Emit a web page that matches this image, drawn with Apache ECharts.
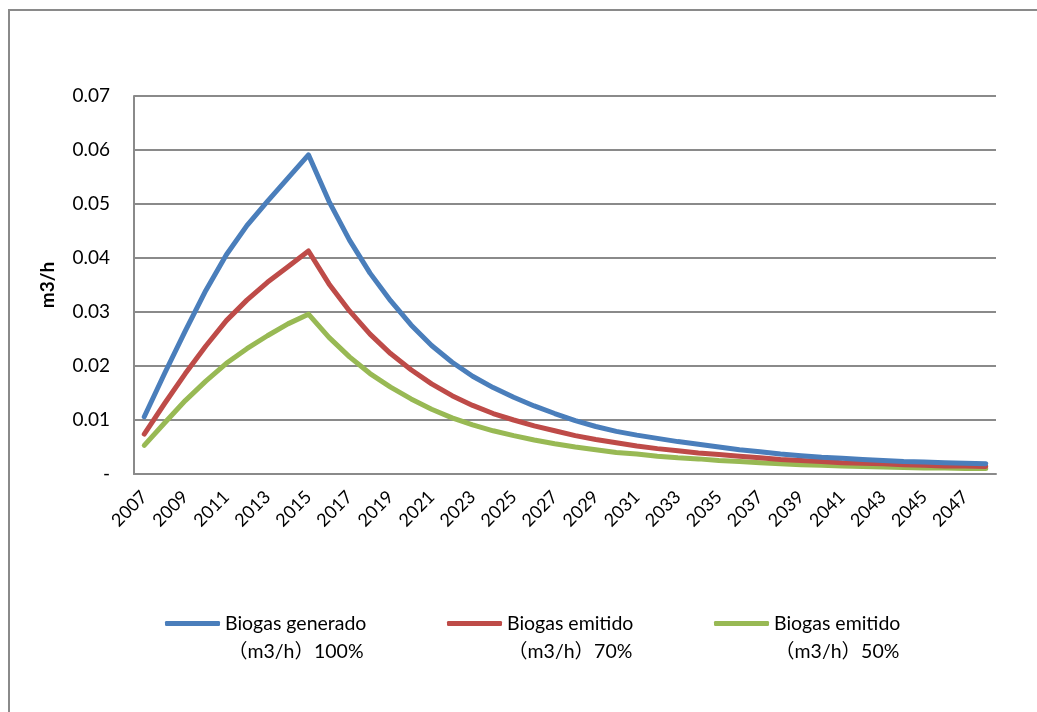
<!DOCTYPE html>
<html>
<head>
<meta charset="utf-8">
<script src="https://cdn.jsdelivr.net/npm/echarts@6/dist/echarts.min.js"></script>
<style>
html,body{margin:0;padding:0;background:#fff;}
#c{width:1037px;height:712px;}
</style>
</head>
<body>
<div id="c"></div>
<script>
var years = [];
for (var y = 2007; y <= 2048; y++) years.push(String(y));

var seriesNames = ['Biogas generado\n（m3/h）100%', 'Biogas emitido\n（m3/h）70%', 'Biogas emitido\n（m3/h）50%'];

var generado100 = [0.0106,0.0187,0.0265,0.0340,0.0406,0.0460,0.0505,0.0548,0.0591,
  0.0505,0.0433,0.0372,0.0321,0.0276,0.0238,0.0207,0.0181,0.0160,0.0142,0.0126,
  0.0112,0.0099,0.0088,0.0079,0.0072,0.0066,0.0060,0.0055,0.0050,0.0045,0.0041,
  0.0037,0.0034,0.0031,0.0029,0.0027,0.0025,0.0023,0.0022,0.0021,0.0020,0.0019];

var emitido70 = [0.0074,0.0131,0.0186,0.0237,0.0284,0.0322,0.0355,0.0384,0.0413,
  0.0352,0.0302,0.0259,0.0223,0.0193,0.0167,0.0145,0.0127,0.0112,0.0100,0.0089,
  0.0080,0.0071,0.0064,0.0058,0.0052,0.0047,0.0043,0.0039,0.0036,0.0033,0.0030,
  0.0027,0.0025,0.0023,0.0021,0.0020,0.0019,0.0017,0.0016,0.0015,0.0015,0.0014];

var emitido50 = [0.0053,0.0095,0.0136,0.0172,0.0205,0.0232,0.0256,0.0278,0.0296,
  0.0253,0.0217,0.0186,0.0161,0.0139,0.0120,0.0104,0.0091,0.0080,0.0071,0.0063,
  0.0056,0.0050,0.0045,0.0040,0.0037,0.0033,0.0030,0.0028,0.0025,0.0023,0.0021,
  0.0019,0.0017,0.0016,0.0015,0.0014,0.0013,0.0012,0.0011,0.0011,0.0010,0.0010];

var colors = ['#4A7EBB', '#BE4B48', '#98B954'];
var FONT = "Lato, 'Noto Sans CJK SC', sans-serif";

function makeLegend(name, left) {
  return {
    data: [name],
    left: left,
    top: 586,
    padding: 0,
    icon: 'roundRect',
    itemWidth: 55,
    itemHeight: 5,
    itemGap: 0,
    selectedMode: false,
    formatter: function (n) {
      var parts = n.split('\n');
      return '{e| }\n{a|' + parts[0] + '}\n{a|' + parts[1] + '}';
    },
    textStyle: {
      fontFamily: FONT,
      color: '#000',
      rich: {
        e: {fontSize: 19, lineHeight: 28, fontFamily: FONT},
        a: {fontSize: 19.5, lineHeight: 28, align: 'center', color: '#000', fontFamily: FONT}
      }
    }
  };
}

var chart = echarts.init(document.getElementById('c'), null, {renderer: 'canvas'});
var dataSets = [generado100, emitido70, emitido50];
chart.setOption({
  animation: false,
  backgroundColor: '#fff',
  color: colors,
  graphic: [{
    type: 'rect',
    shape: {x: 9, y: 10, width: 1100, height: 800},
    style: {fill: 'none', stroke: '#8a8a8a', lineWidth: 2},
    silent: true
  }],
  grid: {left: 134, right: 41, top: 96, bottom: 238, containLabel: false},
  legend: [makeLegend(seriesNames[0], 165), makeLegend(seriesNames[1], 447), makeLegend(seriesNames[2], 714)],
  xAxis: {
    type: 'category',
    data: years,
    boundaryGap: true,
    axisLine: {show: true, lineStyle: {color: '#8a8a8a', width: 2}},
    axisTick: {show: false},
    axisLabel: {
      interval: 1,
      rotate: 45,
      margin: 20,
      fontSize: 18,
      fontFamily: FONT,
      color: '#000'
    },
    splitLine: {show: false}
  },
  yAxis: {
    type: 'value',
    min: 0,
    max: 0.07,
    interval: 0.01,
    name: 'm3/h',
    nameLocation: 'middle',
    nameRotate: 90,
    nameGap: 77,
    nameTextStyle: {fontSize: 19, fontWeight: 'bold', fontFamily: FONT, color: '#000'},
    axisLine: {show: true, lineStyle: {color: '#8a8a8a', width: 2}},
    axisTick: {show: false},
    axisLabel: {
      margin: 24,
      fontSize: 19,
      fontFamily: FONT,
      color: '#000',
      formatter: function (v) { return v === 0 ? '-' : v.toFixed(2); }
    },
    splitLine: {show: true, lineStyle: {color: '#8a8a8a', width: 2}}
  },
  series: dataSets.map(function (d, i) {
    return {
      name: seriesNames[i],
      type: 'line',
      data: d,
      symbol: 'none',
      smooth: false,
      lineStyle: {width: 5, color: colors[i], cap: 'round', join: 'round'},
      itemStyle: {color: colors[i]},
      z: 3 - i
    };
  })
});
</script>
</body>
</html>
